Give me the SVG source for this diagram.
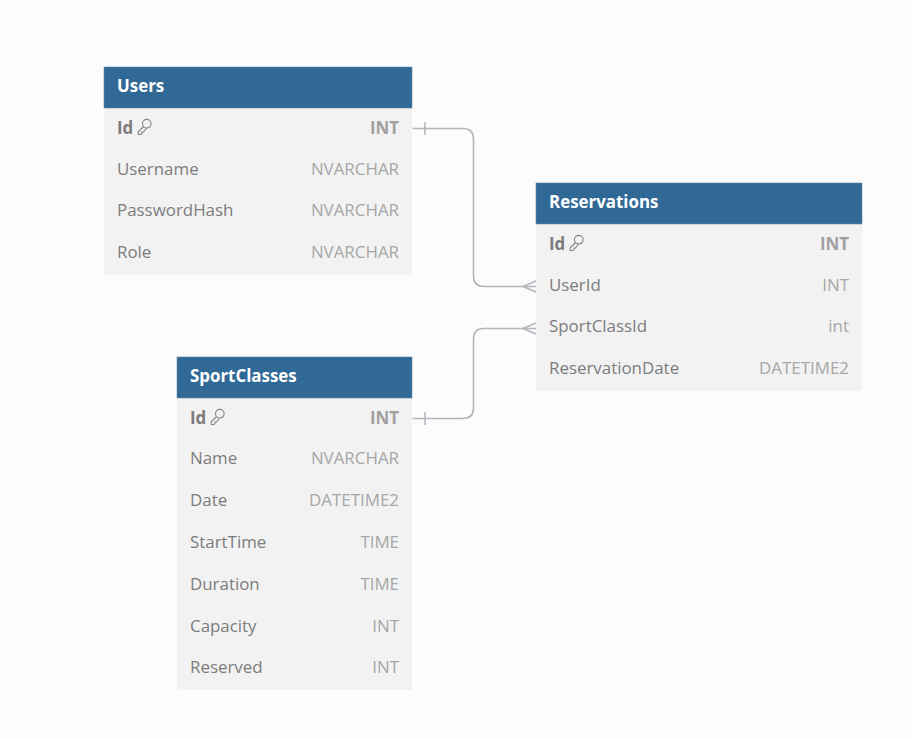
<svg xmlns="http://www.w3.org/2000/svg" width="912" height="738" viewBox="0 0 912 738">
<style>
text{font-family:"Open Sans","Noto Sans","Liberation Sans",sans-serif;font-size:16.9px}
.body{fill:#f2f2f2}
.head{fill:#306896;stroke:#5f8cb0;stroke-width:.6}
.sep{stroke:#f4f4f4;stroke-width:1}
.title{fill:#fff;font-weight:700}
.n{fill:#7c7c7c}
.pk{fill:#7c7c7c;font-weight:700}
.t{fill:#a6a6a6;text-anchor:end}
.tb{fill:#a0a0a0;font-weight:700;text-anchor:end}
.key{fill:none;stroke:#858585;stroke-width:1.1}
.conn{fill:none;stroke:#b4b4bc;stroke-width:1.6}
</style>
<defs>
<g id="key"><circle cx="9.800" cy="-4.300" r="4.300" class="key"/><path d="M6.600 -1.500L1.200 3.800V6.500H4L5 5.500V4H6.500L9.600 0" class="key"/></g>
</defs>
<rect width="912" height="738" fill="#fcfcfc"/>
<g id="connectors">
<path class="conn" d="M412.500 128.500H463Q473.500 128.500 473.500 139V276Q473.500 286.500 484 286.500H536"/>
<path class="conn" d="M425 122V135"/>
<path class="conn" d="M536 281L523 286.500L536 292"/>
<path class="conn" d="M412.500 418.500H463Q473.500 418.500 473.500 408V339Q473.500 328.500 484 328.500H536"/>
<path class="conn" d="M425 412V425"/>
<path class="conn" d="M536 323L523 328.500L536 334"/>
</g>
<g id="users">
<rect class="body" x="104" y="107" width="308" height="168"/>
<rect class="head" x="104" y="67" width="308" height="41"/>
<path class="sep" d="M104 149H412M104 190.500H412M104 232H412"/>
<text class="title" x="117" y="91.500">Users</text>
<text class="pk" x="117" y="133.500">Id</text><use href="#key" x="137" y="128"/><text class="tb" x="399" y="133.500">INT</text>
<text class="n" x="117" y="175">Username</text><text class="t" x="399" y="175">NVARCHAR</text>
<text class="n" x="117" y="216">PasswordHash</text><text class="t" x="399" y="216">NVARCHAR</text>
<text class="n" x="117" y="258">Role</text><text class="t" x="399" y="258">NVARCHAR</text>
</g>
<g id="reservations">
<rect class="body" x="536" y="223" width="326" height="168"/>
<rect class="head" x="536" y="183" width="326" height="41"/>
<path class="sep" d="M536 265H862M536 306.500H862M536 348H862"/>
<text class="title" x="549" y="207.500">Reservations</text>
<text class="pk" x="549" y="249.500">Id</text><use href="#key" x="569" y="244"/><text class="tb" x="849" y="249.500">INT</text>
<text class="n" x="549" y="291">UserId</text><text class="t" x="849" y="291">INT</text>
<text class="n" x="549" y="332">SportClassId</text><text class="t" x="849" y="332">int</text>
<text class="n" x="549" y="374">ReservationDate</text><text class="t" x="849" y="374">DATETIME2</text>
</g>
<g id="sportclasses">
<rect class="body" x="177" y="397" width="235" height="293"/>
<rect class="head" x="177" y="357" width="235" height="41"/>
<path class="sep" d="M177 439H412M177 480.500H412M177 522H412M177 563.500H412M177 605H412M177 647H412"/>
<text class="title" x="190" y="381.500">SportClasses</text>
<text class="pk" x="190" y="423.500">Id</text><use href="#key" x="210" y="418"/><text class="tb" x="399" y="423.500">INT</text>
<text class="n" x="190" y="464">Name</text><text class="t" x="399" y="464">NVARCHAR</text>
<text class="n" x="190" y="506">Date</text><text class="t" x="399" y="506">DATETIME2</text>
<text class="n" x="190" y="548">StartTime</text><text class="t" x="399" y="548">TIME</text>
<text class="n" x="190" y="589.500">Duration</text><text class="t" x="399" y="589.500">TIME</text>
<text class="n" x="190" y="631.500">Capacity</text><text class="t" x="399" y="631.500">INT</text>
<text class="n" x="190" y="672.500">Reserved</text><text class="t" x="399" y="672.500">INT</text>
</g>
</svg>
